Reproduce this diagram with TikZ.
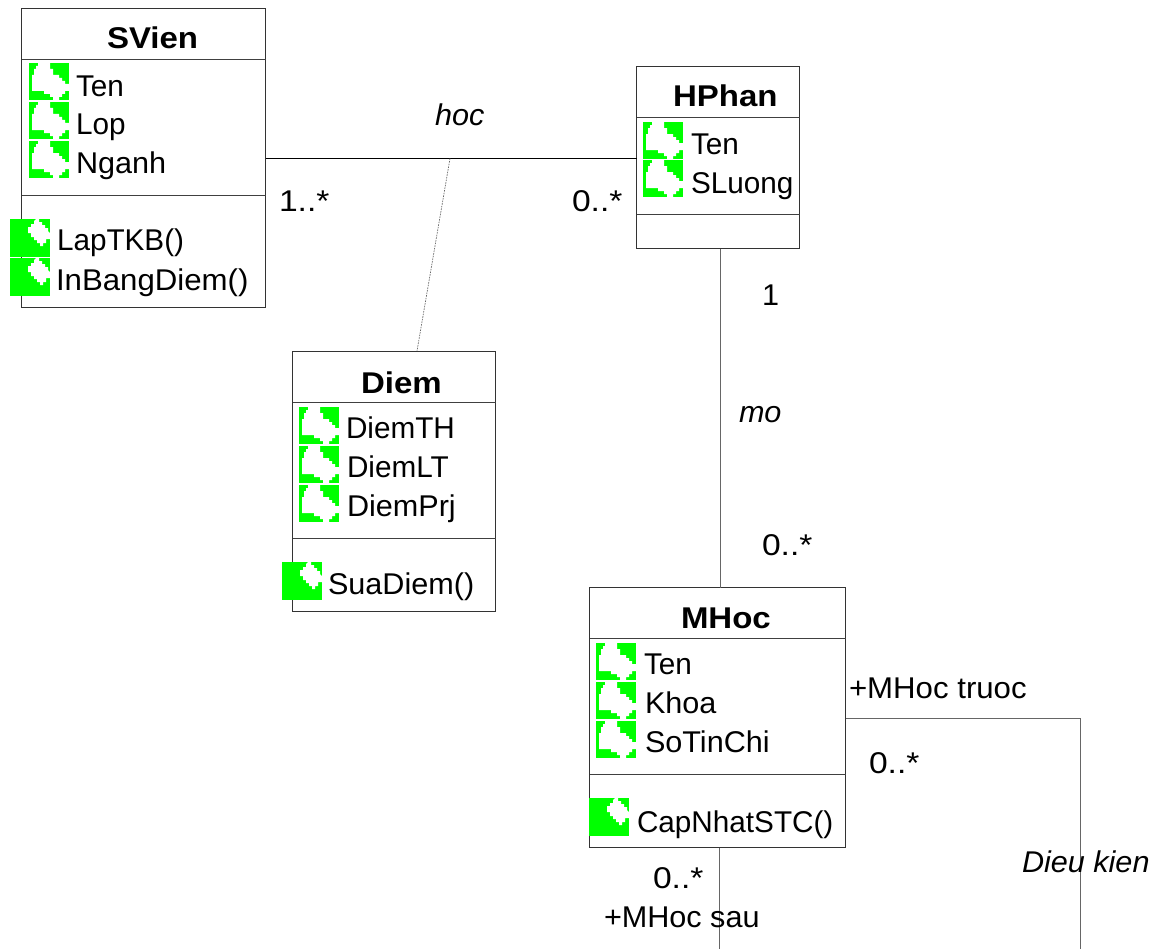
\documentclass[tikz,border=0pt]{standalone}
\usepackage{fontspec}
\setmainfont{Liberation Sans}[FakeStretch=1.02]
\newfontface\ttlfont{Liberation Sans Bold}[FakeStretch=1.10]
\newfontface\multfont{Liberation Sans}[FakeStretch=1.12]
\newfontface\narrowfont{Liberation Sans}[FakeStretch=0.99]
\newfontface\widefont{Liberation Sans}[FakeStretch=1.04]
\definecolor{icongreen}{RGB}{0,255,0}
\tikzset{
  x=0.75pt,y=-0.75pt,
  classbox/.style={draw=black!80,line width=0.75pt,fill=white,rectangle,inner sep=0pt,outer sep=0pt,anchor=north west},
  sepline/.style={draw=black!75,line width=0.75pt},
  assoc/.style={draw=black!60,line width=0.75pt},
  assocdark/.style={draw=black,line width=0.75pt},
  linkdotted/.style={draw=black!60,line width=0.5pt,dash pattern=on 1.2pt off 0.8pt},
  lab/.style={anchor=base west,inner sep=0pt,outer sep=0pt,font=\fontsize{22.5}{26}\selectfont,text=black},
  ttl/.style={lab,font=\fontsize{22.5}{26}\ttlfont},
  mult/.style={lab,font=\fontsize{22.5}{26}\multfont},
  nar/.style={lab,font=\fontsize{22.5}{26}\narrowfont},
  wid/.style={lab,font=\fontsize{22.5}{26}\widefont},
  role/.style={lab,font=\fontsize{22.5}{26}\selectfont\itshape},
  attric/.pic={
    \fill[icongreen] (0,0) rectangle (40,37);
    \fill[white] (9,0)--(21,0)--(21,6)--(24,6)--(24,12)--(30,12)--(30,15)--(33,15)--(33,18)--(36,18)--(36,21)--(40,21)--(40,28)--(36,28)--(36,31)--(33,31)--(33,34)--(30,34)--(30,37)--(24,37)--(24,34)--(21,34)--(21,31)--(15,31)--(15,28)--(3,28)--(3,12)--(5,12)--(5,6)--(7,6)--(7,3)--(9,3)--cycle;
  },
  opic/.pic={
    \fill[icongreen] (0,0) rectangle (40,38);
    \fill[white] (18,8)--(21,8)--(21,5)--(24,5)--(24,2)--(26,0)--(29,0)--(29,3)--(32,3)--(32,6)--(35,6)--(35,9)--(38,9)--(38,12)--(40,14)--(40,20)--(36,20)--(36,24)--(33,24)--(33,27)--(30,27)--(30,24)--(27,24)--(27,21)--(24,21)--(24,18)--(21,18)--(21,14)--(18,14)--cycle;
  }
}
\begin{document}
\begin{tikzpicture}
\useasboundingbox (0,0) rectangle (1157,949);
\fill[white] (0,0) rectangle (1157,949);
% class boxes
\node[classbox,minimum width=183pt,minimum height=224.25pt] (svien) at (21.5,8.5) {};
\node[classbox,minimum width=122.25pt,minimum height=136.5pt] (hphan) at (636.5,66.5) {};
\node[classbox,minimum width=152.25pt,minimum height=195pt] (diem) at (292.5,351.5) {};
\node[classbox,minimum width=192pt,minimum height=195pt] (mhoc) at (589.5,587.5) {};
% compartment lines
\coordinate (sa) at (0,59.5); \coordinate (sb) at (0,195.5);
\coordinate (ha) at (0,117.5); \coordinate (hb) at (0,214.5);
\coordinate (da) at (0,402.5); \coordinate (db) at (0,538.5);
\coordinate (ma) at (0,638.5); \coordinate (mb) at (0,774.5);
\draw[sepline] (svien.west |- sa) -- (svien.east |- sa);
\draw[sepline] (svien.west |- sb) -- (svien.east |- sb);
\draw[sepline] (hphan.west |- ha) -- (hphan.east |- ha);
\draw[sepline] (hphan.west |- hb) -- (hphan.east |- hb);
\draw[sepline] (diem.west |- da) -- (diem.east |- da);
\draw[sepline] (diem.west |- db) -- (diem.east |- db);
\draw[sepline] (mhoc.west |- ma) -- (mhoc.east |- ma);
\draw[sepline] (mhoc.west |- mb) -- (mhoc.east |- mb);
% icons
\pic at (29,63) {attric}; \pic at (29,102) {attric}; \pic at (29,141) {attric};
\pic at (10,219) {opic}; \pic at (10,258) {opic};
\pic at (643,122) {attric}; \pic at (643,160) {attric};
\pic at (299,407) {attric}; \pic at (299,446) {attric}; \pic at (299,485) {attric};
\pic at (282,562) {opic};
\pic at (596,643) {attric}; \pic at (596,682) {attric}; \pic at (596,721) {attric};
\pic at (589,798) {opic};
% texts
\node[ttl] (t1) at (107,49) {SVien};
\node[nar] (s1) at (76,96.3) {Ten};
\node[nar] (s2) at (76,134.3) {Lop};
\node[lab] (s3) at (76,173.3) {Nganh};
\node[nar] (s4) at (57,250.3) {LapTKB()};
\node[wid] (s5) at (56,290) {InBangDiem()};
\node[ttl] (t2) at (673,107) {HPhan};
\node[nar] (h1) at (691,154.3) {Ten};
\node[nar] (h2) at (691,193.3) {SLuong};
\node[ttl] (t3) at (361,393.5) {Diem};
\node[nar] (d1) at (346,438.3) {DiemTH};
\node[nar] (d2) at (347,477.3) {DiemLT};
\node[lab] (d3) at (347,516.3) {DiemPrj};
\node[lab] (d4) at (328,594.3) {SuaDiem()};
\node[ttl] (t4) at (681,628) {MHoc};
\node[nar] (m1) at (644,674.3) {Ten};
\node[lab] (m2) at (645,713.3) {Khoa};
\node[lab] (m3) at (645,752.3) {SoTinChi};
\node[nar] (m4) at (637,832.3) {CapNhatSTC()};
% connectors
\coordinate (hocy) at (0,158.5);
\coordinate (hocmid) at (450,158.5);
\coordinate (dtop) at (417,351);
\coordinate (mtrx) at (1080.5,718.5);
\coordinate (mtre) at (1080.5,949);
\coordinate (msx) at (719.5,847.5);
\coordinate (mse) at (719.5,949);
\coordinate (hb1) at (720.5,248.5);
\coordinate (mt1) at (720.5,587.5);
\draw[assocdark] (svien.east |- hocy) -- (hphan.west |- hocy);
\draw[linkdotted] (hocmid) -- (dtop);
\draw[assoc] (hb1) -- (mt1);
\draw[assoc] (mhoc.east |- mtrx) -- (mtrx) -- (mtre);
\draw[assoc] (msx) -- (mse);
% labels
\node[role] (l1) at (435,125) {hoc};
\node[mult] (l2) at (279,211) {1..*};
\node[mult] (l3) at (572,211) {0..*};
\node[lab] (l4) at (762,305.5) {1};
\node[role] (l5) at (739,422) {mo};
\node[mult] (l6) at (762,555) {0..*};
\node[wid] (l7) at (849,698.5) {+MHoc truoc};
\node[mult] (l8) at (869,773) {0..*};
\node[role] (l9) at (1022,872.5) {Dieu kien};
\node[mult] (l10) at (653,888) {0..*};
\node[lab] (l11) at (604,927.5) {+MHoc sau};
\end{tikzpicture}
\end{document}
